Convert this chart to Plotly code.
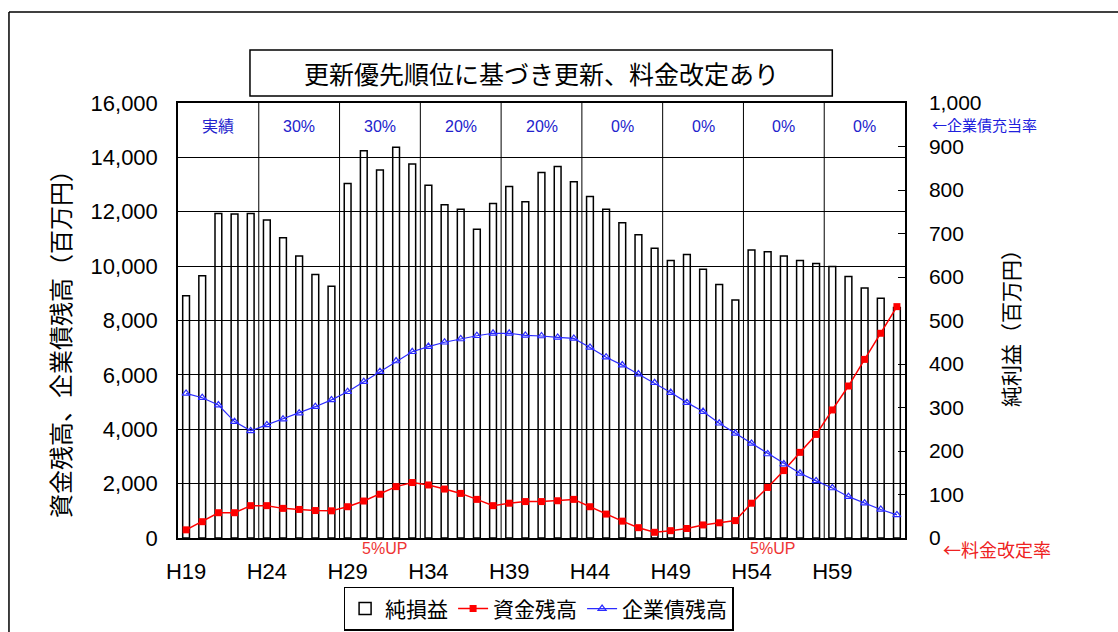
import plotly.graph_objects as go

years = ["H19", "H20", "H21", "H22", "H23", "H24", "H25", "H26", "H27", "H28",
         "H29", "H30", "H31", "H32", "H33", "H34", "H35", "H36", "H37", "H38",
         "H39", "H40", "H41", "H42", "H43", "H44", "H45", "H46", "H47", "H48",
         "H49", "H50", "H51", "H52", "H53", "H54", "H55", "H56", "H57", "H58",
         "H59", "H60", "H61", "H62", "H63"]

# 純損益 (右軸, 百万円)
net_profit = [557, 603, 746, 745, 746, 731, 690, 648, 606, 579,
              815, 890, 846, 898, 860, 811, 766, 756, 710, 769,
              808, 773, 840, 854, 819, 785, 756, 725, 697, 666,
              638, 652, 618, 583, 547, 662, 658, 648, 638, 631,
              624, 601, 575, 551, 530]

# 資金残高 (左軸, 百万円)
fund_balance = [300, 600, 930, 930, 1190, 1190, 1090, 1050, 1010, 1000,
                1150, 1360, 1610, 1890, 2040, 1950, 1800, 1640, 1420, 1190,
                1280, 1340, 1340, 1370, 1420, 1150, 880, 620, 380, 210,
                270, 350, 480, 560, 640, 1280, 1860, 2480, 3150, 3810,
                4710, 5590, 6570, 7530, 8510]

# 企業債残高 (左軸, 百万円)
bond_balance = [5320, 5160, 4890, 4280, 3940, 4160, 4370, 4590, 4830, 5080,
                5380, 5750, 6120, 6510, 6850, 7040, 7200, 7320, 7440, 7530,
                7530, 7450, 7430, 7380, 7340, 7010, 6650, 6360, 6030, 5710,
                5350, 4980, 4650, 4220, 3850, 3480, 3090, 2720, 2380, 2100,
                1840, 1520, 1280, 1050, 850]

tick_labels = ["H19", "H24", "H29", "H34", "H39", "H44", "H49", "H54", "H59"]
segment_labels = ["実績", "30%", "30%", "20%", "20%", "0%", "0%", "0%", "0%"]
segment_size = 5
rate_up_years = ["H31", "H55"]
rate_up_label = "5%UP"

FONT = "Liberation Sans, Arial, Noto Sans CJK JP, sans-serif"
JFONT = "Noto Sans CJK JP, Liberation Sans, sans-serif"
BLUE = "#2b2bff"
RED = "#ff0000"

fig = go.Figure()
fig.add_trace(go.Bar(
    x=years, y=net_profit, name="純損益", yaxis="y",
    marker=dict(color="rgba(0,0,0,0)", line=dict(color="black", width=1.5)),
    width=0.42,
))
fig.add_trace(go.Scatter(
    x=years, y=fund_balance, name="資金残高", yaxis="y2", mode="lines+markers",
    line=dict(color=RED, width=1.5),
    marker=dict(symbol="square", size=7, color=RED),
))
fig.add_trace(go.Scatter(
    x=years, y=bond_balance, name="企業債残高", yaxis="y2", mode="lines+markers",
    line=dict(color=BLUE, width=1.2),
    marker=dict(symbol="triangle-up-open", size=7, color=BLUE, line=dict(width=1.2)),
))

shapes = []
# vertical gridlines at segment boundaries
for k in range(1, len(segment_labels)):
    xb = k * segment_size - 0.5
    shapes.append(dict(type="line", xref="x", yref="paper", x0=xb, x1=xb, y0=0, y1=1,
                       line=dict(color="black", width=1), layer="below"))
# title box
shapes.append(dict(type="rect", xref="paper", yref="paper", x0=0.099, x1=0.900,
                   y0=1.016, y1=1.122, line=dict(color="black", width=1.5),
                   fillcolor="white"))
# outer frame (top and left edges)
shapes.append(dict(type="line", xref="paper", yref="paper", x0=-0.2325, x1=1.32,
                   y0=1.209, y1=1.209, line=dict(color="black", width=1.5)))
shapes.append(dict(type="line", xref="paper", yref="paper", x0=-0.2325, x1=-0.2325,
                   y0=1.209, y1=-0.25, line=dict(color="black", width=1.5)))

annotations = []
annotations.append(dict(text="更新優先順位に基づき更新、料金改定あり", xref="paper", yref="paper",
                        x=0.5, y=1.069, xanchor="center", yanchor="middle", showarrow=False,
                        font=dict(family=JFONT, size=25, color="black")))
for i, lab in enumerate(segment_labels):
    annotations.append(dict(text=lab, xref="x", yref="y2", x=i * segment_size + 2, y=15150,
                            xanchor="center", yanchor="middle", showarrow=False,
                            font=dict(family=FONT, size=16, color="#2222cc")))
for yr in rate_up_years:
    annotations.append(dict(text=rate_up_label, xref="x", yref="paper", x=years.index(yr) + 0.3,
                            y=-0.025, xanchor="center", yanchor="middle", showarrow=False,
                            font=dict(family=FONT, size=16, color="#ee3333")))
annotations.append(dict(text="←企業債充当率", xref="paper", yref="paper", x=1.034, y=0.951,
                        xanchor="left", yanchor="middle", showarrow=False,
                        font=dict(family=JFONT, size=15, color="#2020dd")))
annotations.append(dict(text="←料金改定率", xref="paper", yref="paper", x=1.05, y=-0.025,
                        xanchor="left", yanchor="middle", showarrow=False,
                        font=dict(family=JFONT, size=18, color="#ee2222")))
annotations.append(dict(text="資金残高、企業債残高（百万円）", xref="paper", yref="paper",
                        x=-0.1623, y=0.46, xanchor="center", yanchor="middle",
                        textangle=-90, showarrow=False,
                        font=dict(family=JFONT, size=24, color="black")))
annotations.append(dict(text="純利益（百万円）", xref="paper", yref="paper",
                        x=1.1444, y=0.494, xanchor="center", yanchor="middle",
                        textangle=-90, showarrow=False,
                        font=dict(family=JFONT, size=21, color="black")))

fig.update_layout(
    width=1118, height=632, autosize=False,
    margin=dict(l=178, r=213, t=103, b=94, pad=0, autoexpand=False),
    paper_bgcolor="white", plot_bgcolor="white",
    font=dict(family=FONT, size=21, color="black"),
    showlegend=True,
    legend=dict(orientation="h", x=0.496, xanchor="center", y=-0.163, yanchor="middle",
                bordercolor="black", borderwidth=1.5, bgcolor="white",
                font=dict(family=JFONT, size=21, color="black"),
                itemwidth=30, tracegroupgap=0),
    xaxis=dict(type="category", range=[-0.5, len(years) - 0.5],
               tickmode="array", tickvals=tick_labels, ticktext=tick_labels,
               showline=True, linecolor="black", linewidth=1.5, mirror=True,
               showgrid=False, ticks="", ticklabelstandoff=13,
               tickfont=dict(family=FONT, size=22)),
    yaxis=dict(side="right", range=[0, 1000], dtick=100, tickformat=",d",
               ticks="inside", ticklen=7, tickcolor="black", tickwidth=1,
               showline=True, linecolor="black", linewidth=1.5,
               showgrid=False, zeroline=False, ticklabelstandoff=18,
               tickfont=dict(family=FONT, size=21)),
    yaxis2=dict(overlaying="y", side="left", range=[0, 16000], dtick=2000, tickformat=",d",
                showgrid=True, gridcolor="black", gridwidth=1,
                showline=True, linecolor="black", linewidth=1.5,
                zeroline=False, ticks="", ticklabelstandoff=14,
                tickfont=dict(family=FONT, size=22)),
    shapes=shapes,
    annotations=annotations,
)

fig.write_html("out.html")
